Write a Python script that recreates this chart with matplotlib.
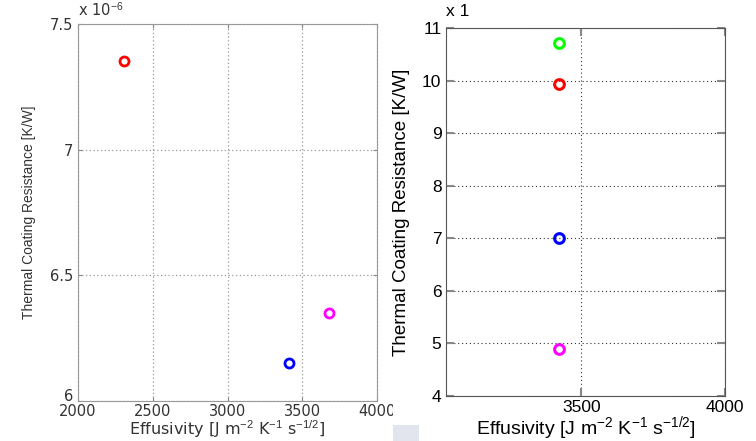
import matplotlib
matplotlib.use("Agg")
import matplotlib.pyplot as plt
from matplotlib.patches import Rectangle
from matplotlib.transforms import Bbox, ScaledTranslation
from matplotlib.ticker import FuncFormatter

plt.rcParams['font.family'] = ['Liberation Sans', 'DejaVu Sans']
plt.rcParams['mathtext.fontset'] = 'custom'
plt.rcParams['mathtext.rm'] = 'Liberation Sans'
plt.rcParams['mathtext.it'] = 'Liberation Sans:italic'
plt.rcParams['mathtext.bf'] = 'Liberation Sans:bold'

# left panel: resistance in K/W (scale 1e-6)
left_effusivity = [2310, 3413, 3681]
left_resistance = [7.353e-6, 6.150e-6, 6.349e-6]
left_colors = ['#ff0000', '#0000ff', '#ff00ff']
left_xticks = [2000, 2500, 3000, 3500, 4000]
left_yticks = [6e-6, 6.5e-6, 7e-6, 7.5e-6]

# right panel
right_effusivity = [3423, 3423, 3423, 3423]
right_resistance = [10.71, 9.93, 7.01, 4.88]
right_colors = ['#00ff00', '#ff0000', '#0000ff', '#ff00ff']
right_xticks = [3500, 4000]
right_yticks = [4, 5, 6, 7, 8, 9, 10, 11]

xlabel = 'Effusivity [J m$^{-2}$ K$^{-1}$ s$^{-1/2}$]'
ylabel = 'Thermal Coating Resistance [K/W]'

W, H = 756, 441
fig = plt.figure(figsize=(W / 100, H / 100), dpi=100)


def box(x0, y0, x1, y1):
    return [x0 / W, 1 - y1 / H, (x1 - x0) / W, (y1 - y0) / H]


wide = 'DejaVu Sans'

# ---- left panel
ax1 = fig.add_axes(box(78, 24, 377, 401))
for x, y, c in zip(left_effusivity, left_resistance, left_colors):
    ax1.plot(x, y, 'o', mfc='none', mec=c, ms=6.5, mew=2)
ax1.set_xlim(2000, 4000)
ax1.set_ylim(6e-6, 7.5e-6)
ax1.set_xticks(left_xticks)
ax1.set_yticks(left_yticks)
ax1.yaxis.set_major_formatter(FuncFormatter(lambda v, p: '%g' % round(v * 1e6, 3)))
ax1.grid(True, linestyle=(0, (1, 2)), color='#999999', linewidth=0.9)
ax1.tick_params(direction='in', length=3, top=True, right=True,
                labelsize=10.5, colors='#888888', labelcolor='#333333')
ax1.tick_params(axis='x', pad=2)
for s in ax1.spines.values():
    s.set_color('#999999')
ax1.set_xlabel(xlabel, fontsize=11.5, color='#333333', family=wide)
ax1.xaxis.set_label_coords(0.5, -0.047)
ax1.set_ylabel(ylabel, fontsize=10, color='#333333', labelpad=10)
ax1.text(0, 1.012, r'x 10$^{-6}$', transform=ax1.transAxes, fontsize=10.5,
         color='#333333', va='bottom', ha='left', family=wide)

# ---- right panel
ax2 = fig.add_axes(box(446.3, 28, 725, 395.7))
for x, y, c in zip(right_effusivity, right_resistance, right_colors):
    ax2.plot(x, y, 'o', mfc='none', mec=c, ms=7, mew=2.2)
ax2.set_xlim(3030, 4000)
ax2.set_ylim(4, 11)
ax2.set_xticks(right_xticks)
ax2.set_yticks(right_yticks)
ax2.grid(True, linestyle=(0, (1, 2.5)), color='#333333', linewidth=0.8)
ax2.tick_params(direction='in', length=6, top=True, right=True,
                labelsize=12.5, colors='#888888', labelcolor='black', width=1.5)
ax2.tick_params(axis='x', pad=3)
for s in ax2.spines.values():
    s.set_color('#555555')
ax2.set_xlabel(xlabel, fontsize=14)
ax2.xaxis.set_label_coords(0.5, -0.05)
ax2.set_ylabel(ylabel, fontsize=13.5, labelpad=9)
ax2.text(0, 1.025, 'x 1', transform=ax2.transAxes, fontsize=12.5,
         va='bottom', ha='left')

fig.canvas.draw()
# left panel tick labels look wider in the reference
for lab in ax1.get_xticklabels() + ax1.get_yticklabels():
    lab.set_fontfamily(wide)
# lowest y label sits a little above its tick in the reference
low = ax1.get_yticklabels()[0]
low.set_transform(low.get_transform() + ScaledTranslation(0, 6 / 100, fig.dpi_scale_trans))

# left panel image was cropped at x=393
clip = Bbox.from_extents(0, 0, 393, H)
for lab in ax1.get_xticklabels():
    lab.set_clip_box(clip)
    lab.set_clip_on(True)

fig.patches.append(Rectangle((393 / W, 0), 26 / W, 16 / H, transform=fig.transFigure,
                             facecolor='#e2e4ee', edgecolor='none'))

fig.savefig('out.png', dpi=100)
